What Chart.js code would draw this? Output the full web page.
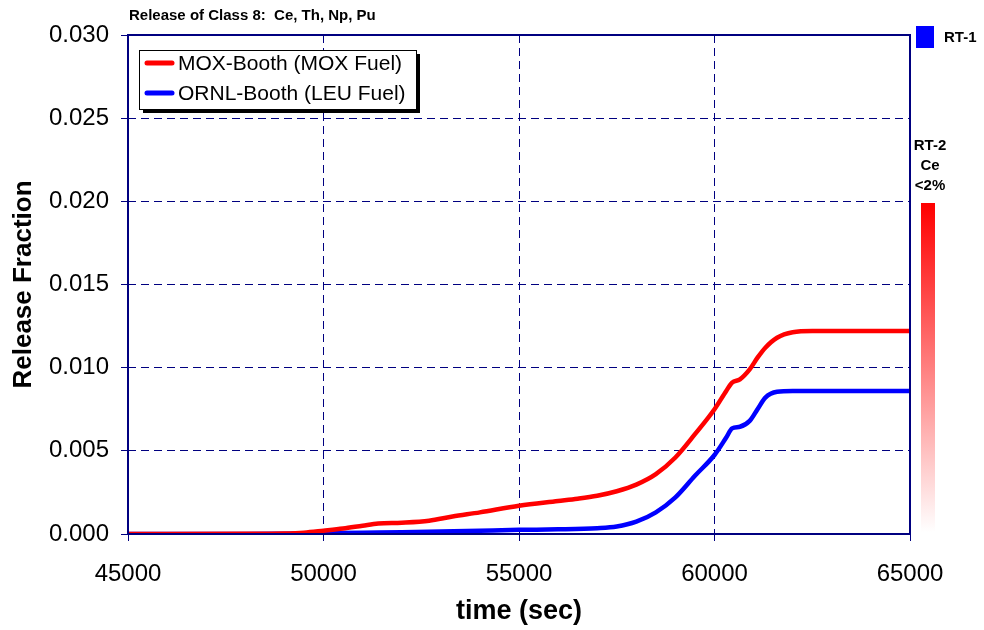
<!DOCTYPE html>
<html>
<head>
<meta charset="utf-8">
<title>Release of Class 8</title>
<script src="https://cdn.jsdelivr.net/npm/chart.js"></script>
<style>
  body { margin: 0; background: #fff; }
  #wrap { width: 984px; height: 630px; }
</style>
</head>
<body>
<div id="wrap"><canvas id="myChart" width="984" height="630"></canvas></div>
<script>
// MOX-Booth (MOX fuel) release fraction vs time
var moxTime = [45000, 48000, 49000, 49500, 50000, 50500, 51000, 51400, 52000, 52700, 53300, 54000, 55000, 56000, 56500, 57000, 57500, 58000, 58500, 59000, 59500, 60000, 60300, 60450, 60650, 60900, 61100, 61300, 61600, 62000, 62500, 63000, 65000];
var moxFrac = [0, 0.00001, 0.00003, 0.00008, 0.0002, 0.00033, 0.0005, 0.00063, 0.00068, 0.0008, 0.00105, 0.0013, 0.0017, 0.00198, 0.00212, 0.0023, 0.00257, 0.00297, 0.0036, 0.0046, 0.0060, 0.0075, 0.0086, 0.0091, 0.0093, 0.0099, 0.0106, 0.0112, 0.0118, 0.01213, 0.0122, 0.0122, 0.0122];

// ORNL-Booth (LEU fuel)
var ornlTime = [45000, 48000, 49000, 50000, 51000, 52000, 53000, 54000, 55000, 56000, 57000, 57500, 58000, 58500, 59000, 59500, 60000, 60300, 60450, 60650, 60900, 61100, 61300, 61600, 62000, 62500, 63000, 65000];
var ornlFrac = [0, 0, 0.00002, 0.00005, 0.00008, 0.0001, 0.00015, 0.0002, 0.00025, 0.00028, 0.00035, 0.00045, 0.00074, 0.0013, 0.0022, 0.0035, 0.00475, 0.0058, 0.00635, 0.00645, 0.0068, 0.0075, 0.0082, 0.00855, 0.0086, 0.0086, 0.0086, 0.0086];

var seriesNames = ['MOX-Booth (MOX Fuel)', 'ORNL-Booth (LEU Fuel)'];
var seriesColors = ['#ff0000', '#0000ff'];

var xTicks = [45000, 50000, 55000, 60000, 65000];
var yTicks = [0, 0.005, 0.010, 0.015, 0.020, 0.025, 0.030];

var navy = '#000080';
var fontName = "'Liberation Sans', Arial, sans-serif";

function toPoints(xs, ys) {
    var pts = [];
    for (var i = 0; i < xs.length; i++) {
        pts.push({ x: xs[i], y: ys[i] });
    }
    return pts;
}

// frame, boxed legend, title and the RT markers on the right
var decorations = {
    id: 'decorations',
    afterDraw: function (chart) {
        var ctx = chart.ctx;
        var a = chart.chartArea;
        ctx.save();

        // plot frame
        ctx.strokeStyle = navy;
        ctx.lineWidth = 2;
        ctx.strokeRect(a.left, a.top, a.right - a.left, a.bottom - a.top);

        // title
        ctx.fillStyle = '#000';
        ctx.font = 'bold 15px ' + fontName;
        ctx.textBaseline = 'middle';
        ctx.textAlign = 'left';
        ctx.fillText('Release of Class 8:  Ce, Th, Np, Pu', 129, 16);

        // legend box with drop shadow
        var lx = 139, ly = 50, lw = 277, lh = 59;
        ctx.fillStyle = '#000';
        ctx.fillRect(lx + 4, ly + 4, lw, lh);
        ctx.fillStyle = '#fff';
        ctx.fillRect(lx, ly, lw, lh);
        ctx.strokeStyle = '#000';
        ctx.lineWidth = 1;
        ctx.strokeRect(lx + 0.5, ly + 0.5, lw, lh);

        ctx.font = '21px ' + fontName;
        chart.data.datasets.forEach(function (ds, i) {
            var y = 63 + i * 30;
            ctx.strokeStyle = ds.borderColor;
            ctx.lineWidth = 5;
            ctx.lineCap = 'round';
            ctx.beginPath();
            ctx.moveTo(147, y);
            ctx.lineTo(172, y);
            ctx.stroke();
            ctx.fillStyle = '#000';
            ctx.fillText(ds.label, 178, y + 1);
        });

        // RT-1 marker
        ctx.fillStyle = '#0000ff';
        ctx.fillRect(916, 26, 18, 22);
        ctx.fillStyle = '#000';
        ctx.font = 'bold 15px ' + fontName;
        ctx.fillText('RT-1', 944, 38);

        // RT-2 label and fading bar
        ctx.textAlign = 'center';
        ctx.fillText('RT-2', 930, 146);
        ctx.fillText('Ce', 930, 166);
        ctx.fillText('<2%', 930, 186);
        var grad = ctx.createLinearGradient(0, 203, 0, 532);
        grad.addColorStop(0, '#ff0000');
        grad.addColorStop(1, '#ffffff');
        ctx.fillStyle = grad;
        ctx.fillRect(921, 203, 14, 329);

        ctx.restore();
    }
};

var ctx = document.getElementById('myChart').getContext('2d');
var myChart = new Chart(ctx, {
    type: 'line',
    data: {
        datasets: [{
            label: seriesNames[0],
            data: toPoints(moxTime, moxFrac),
            borderColor: seriesColors[0],
            borderWidth: 4.5,
            pointRadius: 0,
            cubicInterpolationMode: 'monotone',
            fill: false
        }, {
            label: seriesNames[1],
            data: toPoints(ornlTime, ornlFrac),
            borderColor: seriesColors[1],
            borderWidth: 4.5,
            pointRadius: 0,
            cubicInterpolationMode: 'monotone',
            fill: false
        }]
    },
    options: {
        responsive: false,
        animation: false,
        layout: { padding: { top: 35, right: 74, left: 0, bottom: 0 } },
        plugins: {
            legend: { display: false },
            tooltip: { enabled: false }
        },
        scales: {
            x: {
                type: 'linear',
                min: 45000,
                max: 65000,
                afterBuildTicks: function (scale) {
                    scale.ticks = xTicks.map(function (v) { return { value: v }; });
                },
                afterFit: function (scale) { scale.height = 96; },
                ticks: {
                    color: '#000',
                    font: { family: fontName, size: 24 },
                    padding: 19,
                    maxRotation: 0,
                    callback: function (v) { return String(v); }
                },
                grid: {
                    color: navy,
                    lineWidth: 1,
                    tickBorderDash: [],
                    tickColor: navy,
                    tickLength: 7
                },
                border: { display: false, dash: [8, 5] },
                title: {
                    display: true,
                    text: 'time (sec)',
                    color: '#000',
                    font: { family: fontName, size: 27, weight: 'bold', lineHeight: 1 },
                    padding: { top: 0, bottom: 5 }
                }
            },
            y: {
                min: 0,
                max: 0.03,
                afterBuildTicks: function (scale) {
                    scale.ticks = yTicks.map(function (v) { return { value: v }; });
                },
                afterFit: function (scale) { scale.width = 128; },
                ticks: {
                    color: '#000',
                    font: { family: fontName, size: 24 },
                    padding: 12,
                    callback: function (v) { return v.toFixed(3); }
                },
                grid: {
                    color: navy,
                    lineWidth: 1,
                    tickBorderDash: [],
                    tickColor: navy,
                    tickLength: 7
                },
                border: { display: false, dash: [8, 5] },
                title: {
                    display: true,
                    text: 'Release Fraction',
                    color: '#000',
                    font: { family: fontName, size: 26, weight: 'bold', lineHeight: 1 },
                    padding: { top: 11, bottom: 0 }
                }
            }
        }
    },
    plugins: [decorations]
});
</script>
</body>
</html>
